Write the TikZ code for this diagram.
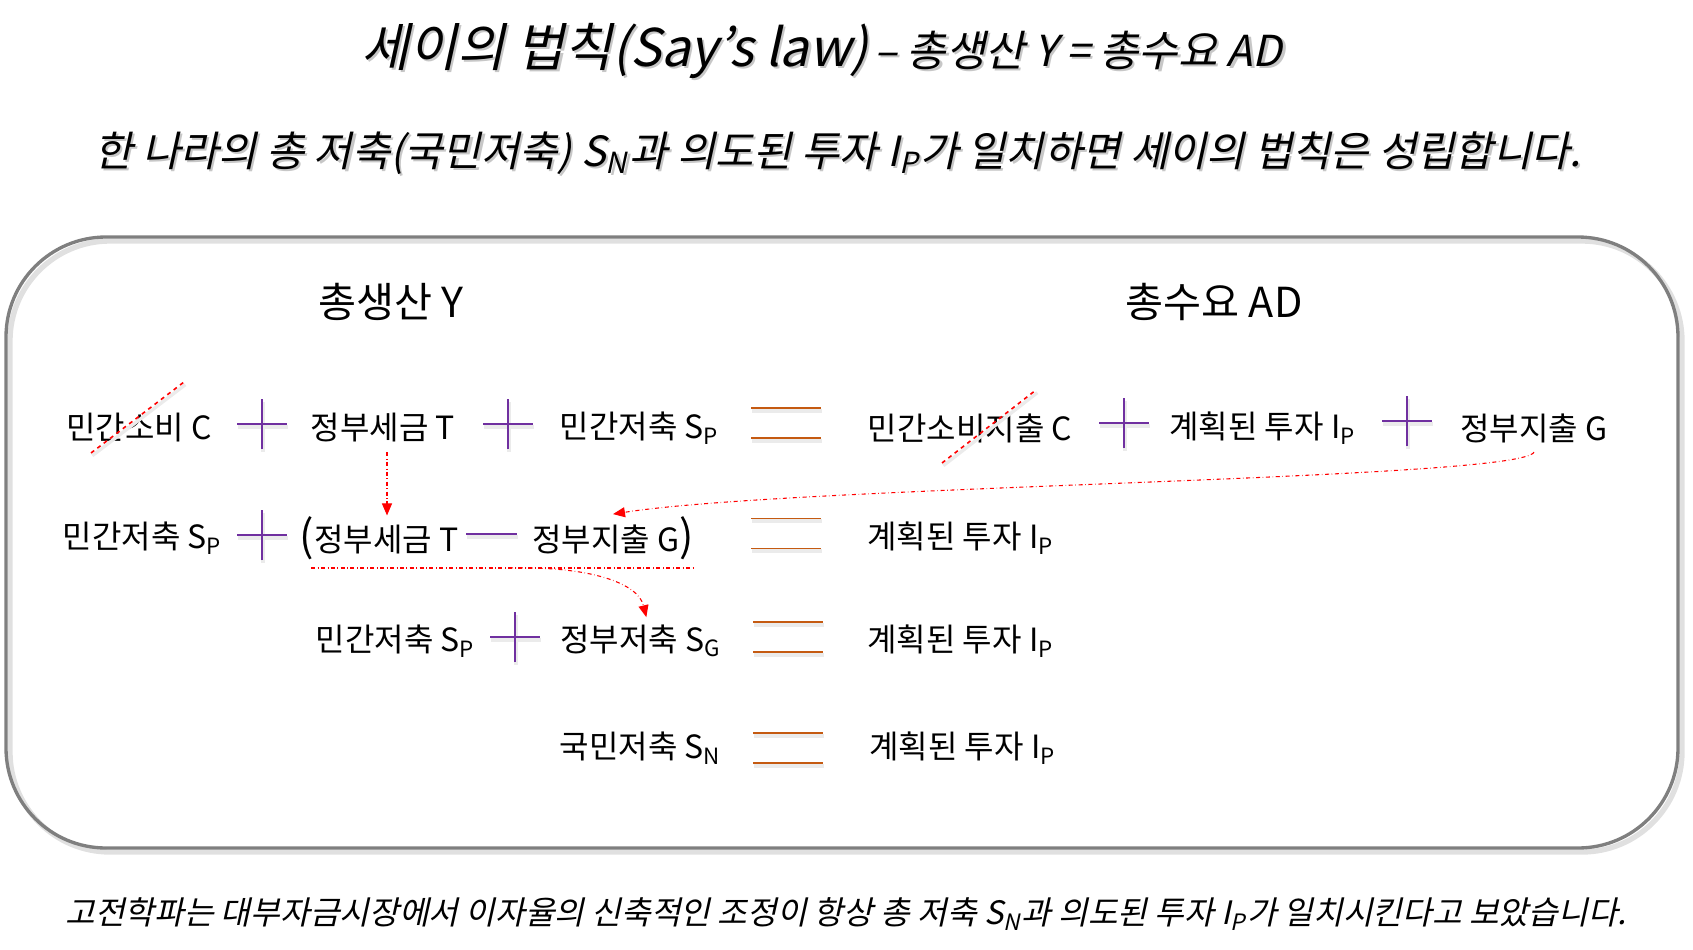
\documentclass[tikz,border=0pt]{standalone}
\usepackage{fontspec}
\setmainfont{Noto Sans CJK KR}
\newfontfamily\krslant[FakeSlant=0.22]{Noto Sans CJK KR}
\usetikzlibrary{arrows.meta}

\definecolor{boxgray}{RGB}{127,127,127}
\definecolor{pluspurple}{RGB}{112,48,160}
\definecolor{eqorange}{RGB}{197,90,17}

% lowered small letter, as in S_P
\newcommand\sbs[1]{\raisebox{-0.32ex}{\scalebox{0.7}{#1}}\kern0.06em}
% text with a soft grey copy behind it
\newcommand\shtext[1]{\leavevmode\rlap{\kern1.6pt\raisebox{-1.8pt}{\color{black!22}#1}}#1}

\tikzset{
  rowtext/.style={inner xsep=0pt, inner ysep=7pt, font=\fontsize{24}{28}\selectfont},
  headtext/.style={inner sep=0pt, font=\fontsize{31}{36}\selectfont},
  slanttext/.style={inner sep=0pt, font=\krslant},
  plusline/.style={draw=pluspurple, line width=1pt},
  eqline/.style={draw=eqorange, line width=1pt},
  strike/.style={draw=red, dashed, line width=1.2pt},
  linkarrow/.style={draw=red, dash dot, line width=0.8pt, -{Triangle[length=9pt,width=7.5pt]}, fill=none},
  faint/.style={preaction={draw=black!8, line width=#1, transform canvas={xshift=1pt,yshift=-2pt}}},
  plussign/.pic={\draw[plusline, faint=3pt] (-25,0) -- (25,0) (0,-25) -- (0,25);},
  eqsign/.pic={\draw[eqline, faint=3pt] (-35,-15) -- (35,-15) (-35,15) -- (35,15);}
}

\begin{document}
\begin{tikzpicture}[x=0.75pt,y=0.75pt,yscale=-1,xscale=1]
\useasboundingbox (0,0) rectangle (1693,950);

%Shape: Rounded Rect
\draw [draw=black!12, line width=4pt, rounded corners=75pt] (10,241) rectangle (1682,852);
\draw [draw=boxgray, line width=2.5pt, rounded corners=75pt] (6,237) rectangle (1678,848);

% Text Node: title lines
\node [slanttext] (title) at (822,52) {\shtext{{\fontsize{39}{46}\selectfont 세이의 법칙(Say’s law)}\hspace{0.45em}{\fontsize{32}{38}\selectfont – 총생산 Y = 총수요 AD}}};
\node [slanttext, font=\krslant\fontsize{31.2}{36}\selectfont] (rule) at (838,154) {\shtext{한 나라의 총 저축(국민저축) S\sbs{N}과 의도된 투자 I\sbs{P}가 일치하면 세이의 법칙은 성립합니다.}};
\node [slanttext, font=\krslant\fontsize{24.2}{29}\selectfont] (note) at (846,914) {고전학파는 대부자금시장에서 이자율의 신축적인 조정이 항상 총 저축 S\sbs{N}과 의도된 투자 I\sbs{P}가 일치시킨다고 보았습니다.};

% Text Node: headings
\node [headtext] (outY) at (391,302) {총생산 Y};
\node [headtext] (demAD) at (1214,302) {총수요 AD};

% Row 1
\node [rowtext] (cons1) at (139,428) {민간소비 C};
\node [rowtext] (tax1) at (383,428) {정부세금 T};
\node [rowtext] (sav1) at (640,428) {민간저축 S\sbs{P}};
\node [rowtext] (cons2) at (970,428) {민간소비지출 C};
\node [rowtext] (inv1) at (1263,428) {계획된 투자 I\sbs{P}};
\node [rowtext] (gov1) at (1534,428) {정부지출 G};
\pic at (262,424) {plussign};
\pic at (508,424) {plussign};
\pic at (786,423) {eqsign};
\pic at (1124,423) {plussign};
\pic at (1407,421) {plussign};

% Row 2
\node [rowtext] (sav2) at (143,538) {민간저축 S\sbs{P}};
\node [rowtext] (tax2) at (379,538) {{\fontsize{32}{32}\selectfont(}정부세금 T};
\node [rowtext] (gov2) at (613,538) {정부지출 G{\fontsize{32}{32}\selectfont)}};
\node [rowtext] (inv2) at (961,538) {계획된 투자 I\sbs{P}};
\pic at (262,535) {plussign};
\draw [plusline, faint=3pt] (466,534) -- (517,534);
\pic at (786,533.5) {eqsign};

% Row 3
\node [rowtext] (sav3) at (396,641) {민간저축 S\sbs{P}};
\node [rowtext] (gsav) at (641,641) {정부저축 S\sbs{G}};
\node [rowtext] (inv3) at (961,641) {계획된 투자 I\sbs{P}};
\pic at (515,637) {plussign};
\pic at (788,637) {eqsign};

% Row 4
\node [rowtext] (nsav) at (641,748) {국민저축 S\sbs{N}};
\node [rowtext] (inv4) at (963,748) {계획된 투자 I\sbs{P}};
\pic at (788,748) {eqsign};

%Straight Lines: struck out consumption
\draw [strike, faint=2.5pt] (91,453) -- (184,382);
\draw [strike, faint=2.5pt] (942,463) -- (1036,390);

%Dash dot lines
\coordinate (uL) at (311,568);
\coordinate (uR) at (694,568);
\coordinate (uM) at (509,568);
\draw [draw=red, dash dot, line width=0.8pt] (uL) -- (uR);
\draw [linkarrow] ([xshift=3pt]tax1.south) -- ([xshift=3pt,yshift=6.5pt]tax1.south |- tax2.north);
\draw [linkarrow] (gov1.south) .. controls (1520,480) and (800,485) .. ([yshift=5.5pt]gov2.north);
\draw [linkarrow] (uM) .. controls (590,566) and (638,583) .. ([xshift=4pt,yshift=1.5pt]gsav.north);
\end{tikzpicture}
\end{document}
